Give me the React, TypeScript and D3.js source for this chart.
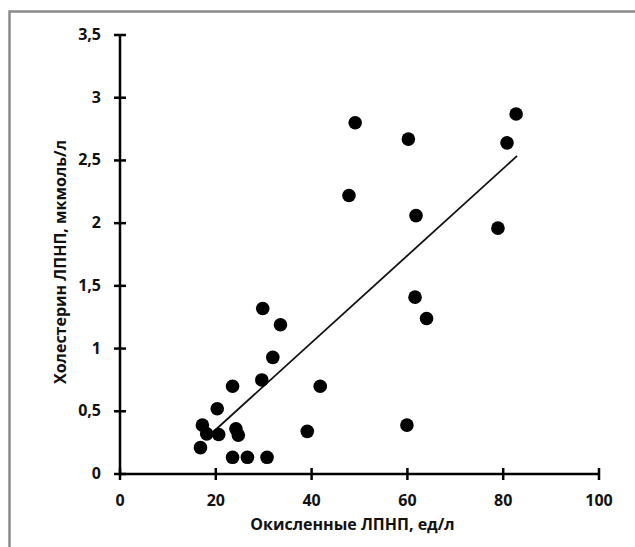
import React, { useRef, useEffect } from "react";
import * as d3 from "d3";

// values: oxidized LDL (x) vs LDL cholesterol (y)
const oxLdl = [49.1, 60.2, 82.7, 80.8, 47.8, 61.8, 78.9, 61.6, 64.0, 29.8, 33.5, 31.9, 29.6, 41.8, 23.5, 20.3, 17.2, 59.9, 18.1, 20.6, 24.2, 24.7, 39.1, 16.8, 23.5, 26.6, 30.7];
const ldlChol = [2.8, 2.67, 2.87, 2.64, 2.22, 2.06, 1.96, 1.41, 1.24, 1.32, 1.19, 0.93, 0.75, 0.7, 0.7, 0.52, 0.39, 0.39, 0.32, 0.315, 0.36, 0.31, 0.34, 0.21, 0.133, 0.133, 0.133];

const trendX = [19.5, 82.9];
const trendY = [0.337, 2.536];

const xTicks = [0, 20, 40, 60, 80, 100];
const yTicks = [0, 0.5, 1, 1.5, 2, 2.5, 3, 3.5];

const xTitle = "Окисленные ЛПНП, ед/л";
const yTitle = "Холестерин ЛПНП, мкмоль/л";

const W = 635, H = 547;
const margin = { top: 35, right: 36, bottom: 73, left: 120 };

const App = () => {
  const svgRef = useRef<SVGSVGElement>(null);

  useEffect(() => {
    const svg = d3.select(svgRef.current);
    svg.selectAll("*").remove();

    const width = W - margin.left - margin.right;
    const height = H - margin.top - margin.bottom;
    const font = "'Open Sans', sans-serif";

    svg.append("rect").attr("width", W).attr("height", H).attr("fill", "#fff");

    // frame: only top and left edges show
    svg.append("path")
      .attr("d", `M9.5,${H} V11.5 H${W}`)
      .attr("fill", "none")
      .attr("stroke", "#8a8a8a")
      .attr("stroke-width", 2.5);

    const g = svg.append("g").attr("transform", `translate(${margin.left},${margin.top})`);

    const x = d3.scaleLinear().domain([0, 100]).range([0, width]);
    const y = d3.scaleLinear().domain([0, 3.5]).range([height, 0]);

    // x axis
    g.append("line")
      .attr("x1", x(0)).attr("x2", x(100))
      .attr("y1", y(0)).attr("y2", y(0))
      .attr("stroke", "#000").attr("stroke-width", 2.5);
    g.selectAll(".xt")
      .data(xTicks)
      .enter()
      .append("line")
      .attr("x1", d => x(d)).attr("x2", d => x(d))
      .attr("y1", y(0) - 6).attr("y2", y(0) + 6)
      .attr("stroke", "#000").attr("stroke-width", 2.5);
    g.selectAll(".xl")
      .data(xTicks)
      .enter()
      .append("text")
      .attr("x", d => x(d))
      .attr("y", y(0) + 32)
      .attr("text-anchor", "middle")
      .style("font-family", font)
      .style("font-size", "16px")
      .style("font-weight", "bold")
      .attr("fill", "#111")
      .text(d => d);

    // y axis
    g.append("line")
      .attr("x1", 0).attr("x2", 0)
      .attr("y1", y(0)).attr("y2", y(3.5))
      .attr("stroke", "#000").attr("stroke-width", 2.5);
    g.selectAll(".yt")
      .data(yTicks)
      .enter()
      .append("line")
      .attr("x1", -6).attr("x2", 6)
      .attr("y1", d => y(d)).attr("y2", d => y(d))
      .attr("stroke", "#000").attr("stroke-width", 2.5);
    g.selectAll(".yl")
      .data(yTicks)
      .enter()
      .append("text")
      .attr("x", -19)
      .attr("y", d => y(d) + 5)
      .attr("text-anchor", "end")
      .style("font-family", font)
      .style("font-size", "16px")
      .style("font-weight", "bold")
      .attr("fill", "#111")
      .text(d => String(d).replace(".", ","));

    // trend line
    g.append("line")
      .attr("x1", x(trendX[0])).attr("y1", y(trendY[0]))
      .attr("x2", x(trendX[1])).attr("y2", y(trendY[1]))
      .attr("stroke", "#111").attr("stroke-width", 1.8);

    // points
    g.selectAll("circle")
      .data(oxLdl.map((v, i) => [v, ldlChol[i]]))
      .enter()
      .append("circle")
      .attr("cx", d => x(d[0]))
      .attr("cy", d => y(d[1]))
      .attr("r", 6.8)
      .attr("fill", "#000");

    svg.append("text")
      .attr("x", margin.left + width / 2 - 7)
      .attr("y", H - 17)
      .attr("text-anchor", "middle")
      .style("font-family", font)
      .style("font-size", "16px")
      .style("font-weight", "bold")
      .attr("fill", "#111")
      .text(xTitle);

    svg.append("text")
      .attr("transform", `translate(66,262) rotate(-90)`)
      .attr("text-anchor", "middle")
      .style("font-family", font)
      .style("font-size", "16px")
      .style("font-weight", "bold")
      .attr("fill", "#111")
      .text(yTitle);
  }, []);

  return (
    <div style={{ position: "absolute", left: 0, top: 0 }}>
      <svg ref={svgRef} width={W} height={H} style={{ display: "block" }}></svg>
    </div>
  );
};

export default App;
